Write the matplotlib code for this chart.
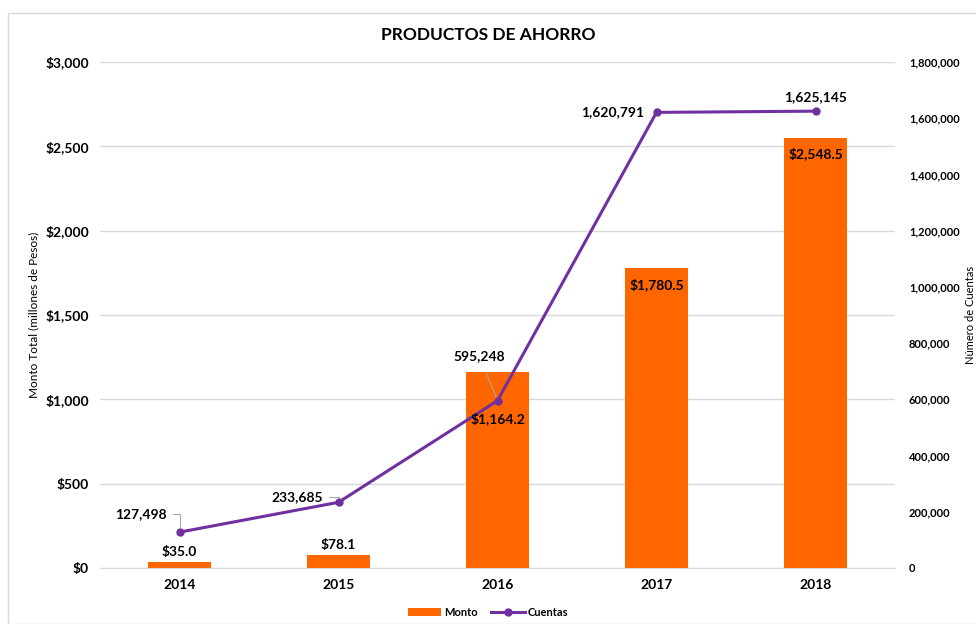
import numpy as np
import matplotlib.pyplot as plt
from matplotlib.patches import Rectangle
from matplotlib.ticker import FuncFormatter

plt.rcParams['font.family'] = ['Lato', 'DejaVu Sans']

years = ["2014", "2015", "2016", "2017", "2018"]
monto = [35.0, 78.1, 1164.2, 1780.5, 2548.5]
cuentas = [127498, 233685, 595248, 1620791, 1625145]

orange = "#FF6600"
purple = "#7030A0"

fig = plt.figure(figsize=(9.76, 6.24), dpi=100)
fig.patches.append(Rectangle((8 / 976, 0), 1, 1 - 13 / 624, transform=fig.transFigure,
                             fill=False, edgecolor="#d9d9d9", lw=1))
ax = fig.add_axes([100 / 976, 1 - 568 / 624, 795 / 976, 506 / 624])
ax2 = ax.twinx()

x = np.arange(len(years))
ax.bar(x, monto, width=0.4, color=orange, zorder=2, label="Monto")
ax.set_ylim(0, 3000)
ax.set_xlim(-0.5, len(years) - 0.5)
ax.set_yticks(np.arange(0, 3001, 500))
ax.yaxis.set_major_formatter(FuncFormatter(lambda v, p: "${:,.0f}".format(v)))
ax.set_xticks(x)
ax.set_xticklabels(years, fontweight="bold", fontsize=10)
for lab in ax.get_yticklabels():
    lab.set_fontweight("bold")
    lab.set_fontsize(10)
ax.grid(axis="y", color="#d9d9d9", lw=1, zorder=0)
ax.tick_params(length=0, pad=8)
ax.set_ylabel("Monto Total (millones de Pesos)", fontsize=8.5)
for s in ax.spines.values():
    s.set_visible(False)
ax.spines["bottom"].set_visible(True)
ax.spines["bottom"].set_color("#d9d9d9")

ax2.plot(x, cuentas, color=purple, lw=2.2, marker="o", markersize=5, zorder=3, label="Cuentas")
ax2.set_ylim(0, 1800000)
ax2.set_yticks(np.arange(0, 1800001, 200000))
ax2.yaxis.set_major_formatter(FuncFormatter(lambda v, p: "{:,.0f}".format(v)))
for lab in ax2.get_yticklabels():
    lab.set_fontweight("bold")
    lab.set_fontsize(8)
ax2.tick_params(length=0, pad=10)
ax2.set_ylabel("Número de Cuentas", fontsize=8)
for s in ax2.spines.values():
    s.set_visible(False)

# bar labels (drawn on ax2 so they sit above the line)
bar_dy = [3, 3, -34, -12, -11]
for i, v in enumerate(monto):
    txt = "${:,.1f}".format(v)
    ax2.annotate(txt, (i, v), xycoords=ax.transData, xytext=(0, bar_dy[i]),
                 textcoords="offset points",
                 ha="center", va="bottom" if bar_dy[i] > 0 else "center",
                 fontsize=10, fontweight="bold", zorder=4)

# line labels
leader = dict(arrowstyle="-", color="#a6a6a6", lw=0.8, shrinkA=2, shrinkB=3,
              connectionstyle="angle,angleA=0,angleB=90,rad=0")
ax2.annotate("{:,.0f}".format(cuentas[0]), (0, cuentas[0]), xytext=(-9, 13),
             textcoords="offset points", ha="right", va="center", fontsize=10,
             fontweight="bold", arrowprops=leader)
ax2.annotate("{:,.0f}".format(cuentas[1]), (1, cuentas[1]), xytext=(-11, 4),
             textcoords="offset points", ha="right", va="center", fontsize=10,
             fontweight="bold", arrowprops=leader)
ax2.annotate("{:,.0f}".format(cuentas[2]), (2, cuentas[2]), xytext=(-13, 32),
             textcoords="offset points", ha="center", va="center", fontsize=10,
             fontweight="bold",
             arrowprops=dict(arrowstyle="-", color="#a6a6a6", lw=0.8, shrinkA=6, shrinkB=3))
ax2.annotate("{:,.0f}".format(cuentas[3]), (3, cuentas[3]), xytext=(-9, 0),
             textcoords="offset points", ha="right", va="center", fontsize=10,
             fontweight="bold")
ax2.annotate("{:,.0f}".format(cuentas[4]), (4, cuentas[4]), xytext=(0, 6),
             textcoords="offset points", ha="center", va="bottom", fontsize=10,
             fontweight="bold")

fig.text(0.5, 1 - 35 / 624, "PRODUCTOS DE AHORRO", ha="center", va="center",
         fontsize=12.5, fontweight="bold")

h1, l1 = ax.get_legend_handles_labels()
h2, l2 = ax2.get_legend_handles_labels()
fig.legend(h1 + h2, l1 + l2, loc="center", bbox_to_anchor=(0.5, 1 - 612 / 624), ncol=2,
           frameon=False, prop={"weight": "bold", "size": 8}, handlelength=3,
           columnspacing=1.2, handletextpad=0.3)

fig.savefig("out.png", dpi=100)
